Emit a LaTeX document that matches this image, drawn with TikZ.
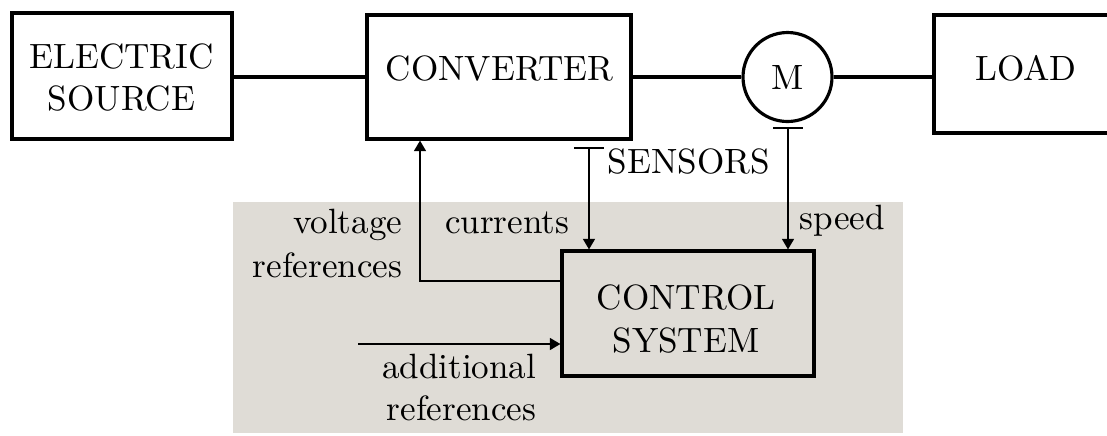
\documentclass[tikz,border=0pt]{standalone}
\usetikzlibrary{arrows.meta}
\definecolor{panelgray}{RGB}{223,220,214}
\def\mypx{0.2848}
\begin{document}
\begin{tikzpicture}[x=\mypx pt,y=-\mypx pt,
  blk/.style={draw,line width=0.9pt,rectangle,inner sep=0pt},
  conn/.style={line width=0.9pt},
  sig/.style={line width=0.45pt},
  bar/.style={line width=0.8pt},
  arr/.style={sig,-{Triangle[length=3pt,width=3.4pt]}},
  lbl/.style={inner sep=0pt,align=center}]
\useasboundingbox (0,0) rectangle (1107,435);
\fill[panelgray] (233,202) rectangle (903,433);
% blocks
\node[blk,minimum width={220*\mypx pt},minimum height={126*\mypx pt}] (src) at (122,76) {};
\node[lbl] (srct) at (121.5,77.5) {ELECTRIC\\SOURCE};
\node[blk,minimum width={264*\mypx pt},minimum height={124*\mypx pt}] (conv) at (499,77) {};
\node[lbl] (convt) at (499.5,68) {CONVERTER};
\node[blk,minimum width={190*\mypx pt},minimum height={118*\mypx pt}] (load) at (1029,74) {};
\node[lbl] (loadt) at (1026,68) {LOAD};
\node[draw,circle,line width=0.9pt,minimum size={89*\mypx pt},inner sep=0pt] (m) at (787.5,77) {M};
\node[blk,fill=panelgray,minimum width={252*\mypx pt},minimum height={125*\mypx pt}] (ctrl) at (688,313.5) {};
\node[lbl] (ctrlt) at (686,319) {CONTROL\\SYSTEM};
% power path
\draw[conn] (src.east |- m) -- (conv.west |- m);
\draw[conn] (conv.east |- m) -- (m.west);
\draw[conn] (m.east) -- (load.west |- m);
% sensors
\coordinate (ci) at (589,148);
\coordinate (cs) at (788,128);
\draw[bar] ([xshift={-15*\mypx pt}]ci) -- ([xshift={15*\mypx pt}]ci);
\draw[bar] ([xshift={-15*\mypx pt}]cs) -- ([xshift={15*\mypx pt}]cs);
\draw[arr] (ci) -- (ci |- ctrl.north);
\draw[arr] (cs) -- (cs |- ctrl.north);
\node[inner sep=0pt,anchor=base west] (sens) at (607,173) {SENSORS};
\node[inner sep=0pt,anchor=base east] (cur) at (570,233) {currents};
\node[inner sep=0pt,anchor=base west] (spd) at (799,229) {speed};
% voltage references
\coordinate (vr) at (420,281);
\draw[arr] (ctrl.west |- vr) -| (vr |- conv.south);
\node[inner sep=0pt,anchor=base east] (vlt1) at (403,233) {voltage};
\node[inner sep=0pt,anchor=base east] (vlt2) at (403,277) {references};
% additional references
\coordinate (ain) at (358,344);
\draw[arr] (ain) -- (ain -| ctrl.west);
\node[inner sep=0pt,anchor=base east] (add1) at (537,378) {additional};
\node[inner sep=0pt,anchor=base east] (add2) at (537,420) {references};
\end{tikzpicture}
\end{document}
